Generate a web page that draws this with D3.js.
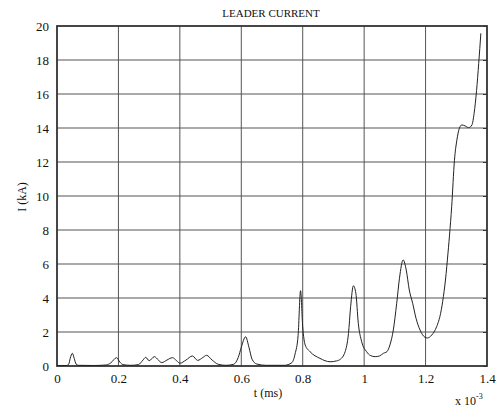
<!DOCTYPE html>
<html>
<head>
<meta charset="utf-8">
<script src="https://cdn.jsdelivr.net/npm/d3@7"></script>
<style>
  html, body { margin: 0; padding: 0; background: #fff; }
  svg { display: block; }
  text { font-family: "Liberation Serif", "Times New Roman", serif; fill: #111; }
</style>
</head>
<body>
<div id="chart"></div>
<script>
const chartTitle = "LEADER CURRENT";
const xLabel = "t (ms)";
const yLabel = "I (kA)";
const xTicks = [0, 0.2, 0.4, 0.6, 0.8, 1, 1.2, 1.4];
const yTicks = [0, 2, 4, 6, 8, 10, 12, 14, 16, 18, 20];

// time in units of 1e-3 (as labelled), current in kA
const tValues = [
  0.000, 0.030, 0.038, 0.043, 0.050, 0.056, 0.062, 0.070, 0.120, 0.160,
  0.175, 0.194, 0.205, 0.215, 0.240, 0.265, 0.280, 0.289, 0.300, 0.317,
  0.330, 0.341, 0.358, 0.376, 0.390, 0.400, 0.420, 0.441, 0.458, 0.475,
  0.487, 0.505, 0.525, 0.550, 0.575, 0.590, 0.600, 0.614, 0.625, 0.635,
  0.650, 0.680, 0.740, 0.765, 0.775, 0.785, 0.793, 0.800, 0.808, 0.824,
  0.856, 0.889, 0.910, 0.922, 0.938, 0.949, 0.956, 0.965, 0.973, 0.981,
  0.992, 1.008, 1.020, 1.036, 1.050, 1.063, 1.074, 1.084, 1.095, 1.106,
  1.115, 1.127, 1.137, 1.147, 1.158, 1.169, 1.182, 1.198, 1.206, 1.220,
  1.236, 1.249, 1.258, 1.267, 1.271, 1.278, 1.285, 1.294, 1.302, 1.310,
  1.318, 1.329, 1.340, 1.351, 1.358, 1.366, 1.373, 1.380
];
const currentValues = [
  0.03, 0.03, 0.10, 0.45, 0.75, 0.45, 0.12, 0.04, 0.03, 0.06,
  0.18, 0.49, 0.22, 0.08, 0.04, 0.08, 0.35, 0.51, 0.31, 0.55,
  0.35, 0.20, 0.35, 0.49, 0.30, 0.16, 0.35, 0.59, 0.33, 0.50,
  0.63, 0.35, 0.10, 0.04, 0.10, 0.50, 1.10, 1.72, 1.10, 0.40,
  0.12, 0.04, 0.04, 0.20, 0.70, 1.80, 4.43, 2.30, 1.24, 0.84,
  0.45, 0.25, 0.30, 0.39, 0.84, 1.92, 3.49, 4.72, 4.28, 2.51,
  1.43, 0.84, 0.62, 0.55, 0.59, 0.75, 0.84, 1.24, 2.12, 3.69,
  5.16, 6.24, 5.65, 4.47, 3.69, 2.80, 2.12, 1.69, 1.65, 1.82,
  2.31, 3.10, 4.08, 5.45, 6.24, 7.70, 9.37, 12.1, 13.3, 13.98,
  14.18, 14.12, 14.02, 14.18, 14.86, 16.2, 17.8, 19.57
];

const W = 499, H = 410;
const margin = { left: 57, right: 12, top: 26, bottom: 44 };
const svg = d3.select("#chart").append("svg").attr("width", W).attr("height", H);

const x = d3.scaleLinear().domain([0, 1.4]).range([margin.left, W - margin.right]);
const y = d3.scaleLinear().domain([0, 20]).range([H - margin.bottom, margin.top]);

// grid
const grid = svg.append("g").attr("stroke", "#555").attr("stroke-width", 1);
grid.selectAll("line.v").data(xTicks.slice(1, -1)).join("line")
  .attr("x1", d => x(d)).attr("x2", d => x(d))
  .attr("y1", y(0)).attr("y2", y(20));
grid.selectAll("line.h").data(yTicks.slice(1, -1)).join("line")
  .attr("x1", x(0)).attr("x2", x(1.4))
  .attr("y1", d => y(d)).attr("y2", d => y(d));

// right inner ticks
svg.append("g").attr("transform", `translate(${x(1.4)},0)`)
  .call(d3.axisLeft(y).tickValues(yTicks).tickSize(4).tickFormat(""))
  .call(g => g.select(".domain").remove())
  .call(g => g.selectAll("line").attr("stroke", "#333"));

// axes labels
const xAxis = svg.append("g").attr("transform", `translate(0,${y(0)})`)
  .call(d3.axisBottom(x).tickValues(xTicks).tickSize(0).tickPadding(8).tickFormat(d3.format("~g")));
xAxis.select(".domain").remove();
xAxis.selectAll("text").style("font-family", "Liberation Serif").style("font-size", "13px").attr("fill", "#111");

const yAxis = svg.append("g").attr("transform", `translate(${x(0)},0)`)
  .call(d3.axisLeft(y).tickValues(yTicks).tickSize(0).tickPadding(8));
yAxis.select(".domain").remove();
yAxis.selectAll("text").style("font-family", "Liberation Serif").style("font-size", "13px").attr("fill", "#111");

// frame
svg.append("rect")
  .attr("x", x(0)).attr("y", y(20))
  .attr("width", x(1.4) - x(0)).attr("height", y(0) - y(20))
  .attr("fill", "none").attr("stroke", "#333").attr("stroke-width", 1.8);

// curve
const pts = tValues.map((t, i) => [t, currentValues[i]]);
svg.append("path").datum(pts)
  .attr("fill", "none").attr("stroke", "#222").attr("stroke-width", 1)
  .attr("d", d3.line().x(d => x(d[0])).y(d => y(d[1])).curve(d3.curveMonotoneX));

// titles
svg.append("text").attr("x", 271).attr("y", 17).attr("text-anchor", "middle")
  .style("font-size", "11px").text(chartTitle);
svg.append("text").attr("x", 268).attr("y", 397).attr("text-anchor", "middle")
  .style("font-size", "12px").text(xLabel);
svg.append("text").attr("transform", "translate(26,197) rotate(-90)").attr("text-anchor", "middle")
  .style("font-size", "12px").text(yLabel);
const mult = svg.append("text").attr("x", 455).attr("y", 405).style("font-size", "12px");
mult.append("tspan").text("x 10");
mult.append("tspan").attr("dy", -6).style("font-size", "8px").text("-3");
</script>
</body>
</html>
